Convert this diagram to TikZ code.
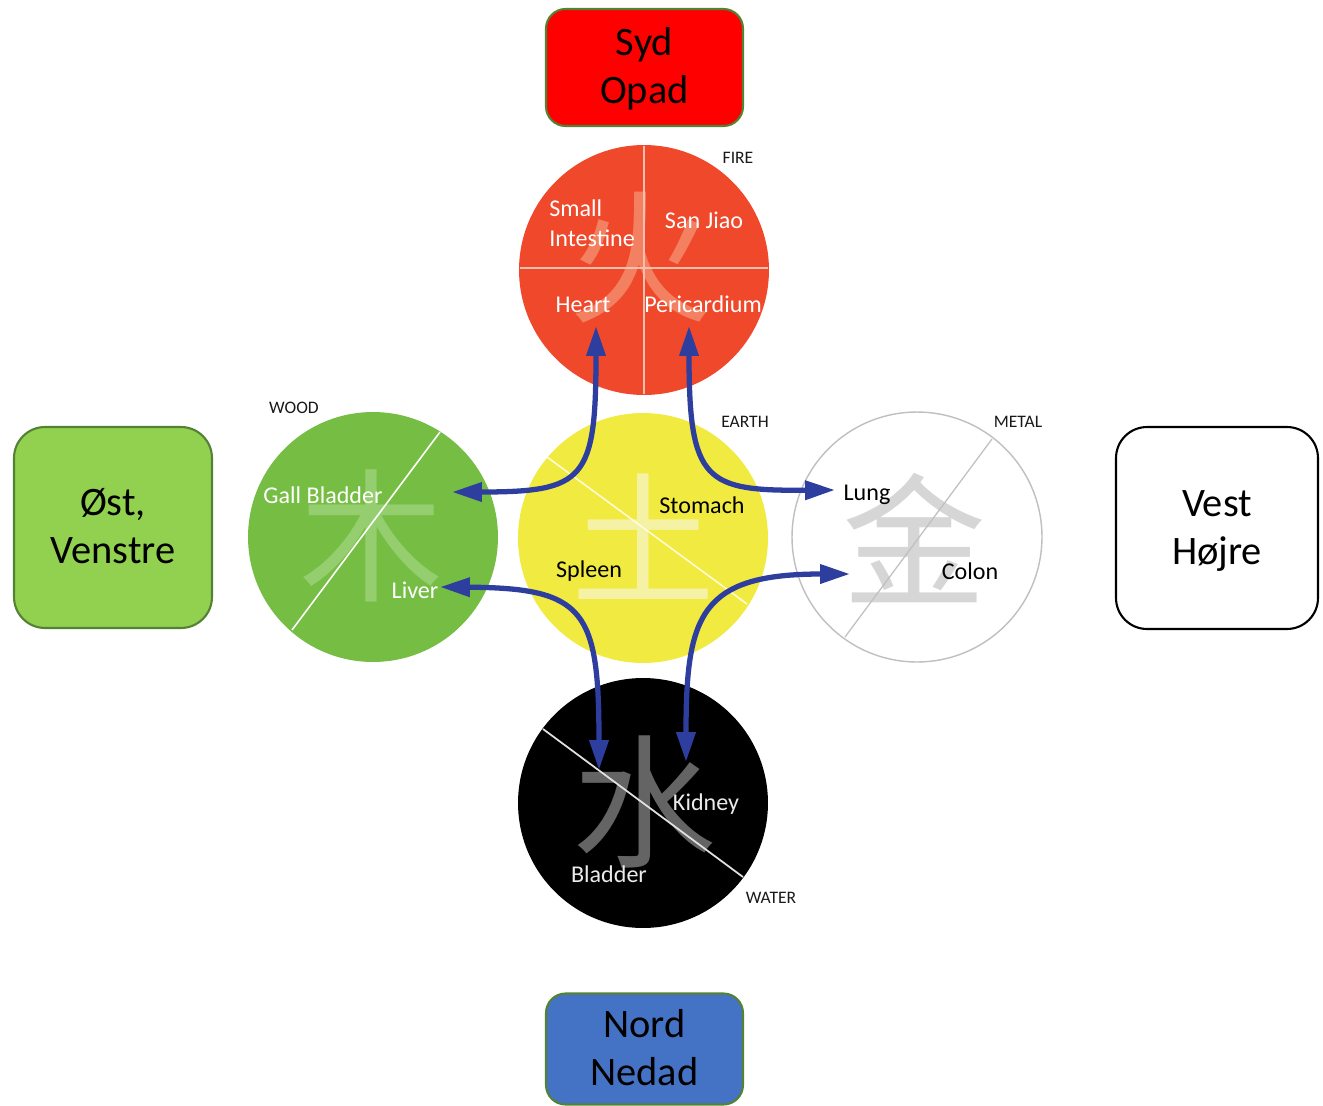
\documentclass[tikz,border=0pt]{standalone}
\usepackage{fontspec}
\setmainfont{Carlito}
\newfontfamily\cjk{Noto Sans CJK SC}
\usetikzlibrary{arrows.meta}

\definecolor{firered}{RGB}{239,72,42}
\definecolor{firechar}{RGB}{244,128,98}
\definecolor{firediv}{RGB}{248,190,172}
\definecolor{earthyel}{RGB}{241,234,64}
\definecolor{earthchar}{RGB}{246,242,165}
\definecolor{earthdiv}{RGB}{255,252,215}
\definecolor{woodgreen}{RGB}{118,189,67}
\definecolor{woodchar}{RGB}{148,206,110}
\definecolor{metalgray}{RGB}{191,191,191}
\definecolor{metalchar}{RGB}{214,214,214}
\definecolor{waterchar}{RGB}{100,100,100}
\definecolor{waterdiv}{RGB}{225,225,225}
\definecolor{watertext}{RGB}{235,235,235}
\definecolor{arrowblue}{RGB}{46,62,158}
\definecolor{boxline}{RGB}{84,130,53}
\definecolor{eastgreen}{RGB}{146,208,80}
\definecolor{northblue}{RGB}{68,114,196}
\definecolor{labelgray}{RGB}{25,25,25}

\newcommand{\dirtext}[2]{\rule{0pt}{20pt}#1\\#2\rule[-6pt]{0pt}{0pt}}

\begin{document}
\begin{tikzpicture}[x=0.02cm,y=-0.02cm,
  dirbox/.style={draw=boxline, line width=1.2pt, align=center,
    font=\fontsize{23}{27.5}\selectfont, inner sep=0pt},
  element/.style={circle, minimum size=5cm, inner sep=0pt},
  organ/.style={font=\fontsize{13.7}{17}\selectfont, anchor=base, inner sep=0pt},
  elabel/.style={font=\fontsize{10}{11}\selectfont, anchor=base, inner sep=0pt, text=labelgray},
  glyph/.style={font=\cjk\fontsize{82}{82}\selectfont, inner sep=0pt},
  link/.style={draw=arrowblue, line width=3pt,
    {Triangle[length=17pt,width=10.5pt]}-{Triangle[length=17pt,width=10.5pt]}}
]
\clip (0,0) rectangle (1323,1106);

% direction boxes
\node[dirbox, fill=red, rounded corners=0.39cm, minimum width=3.94cm, minimum height=2.34cm]
  (south) at (644.5,67.5) {\dirtext{Syd}{Opad}};
\node[dirbox, fill=eastgreen, rounded corners=0.62cm, minimum width=3.96cm, minimum height=4.02cm]
  (east) at (113,527.5) {\dirtext{Øst,}{Venstre}};
\node[dirbox, draw=black, fill=white, rounded corners=0.62cm, minimum width=4.04cm, minimum height=4.04cm]
  (west) at (1217,528) {\dirtext{Vest}{Højre}};
\node[dirbox, fill=northblue, rounded corners=0.39cm, minimum width=3.94cm, minimum height=2.22cm]
  (north) at (644.5,1049) {\dirtext{Nord}{Nedad}};

% element circles
\node[element, fill=firered] (fire) at (644,270) {};
\node[element, fill=earthyel] (earth) at (643,538) {};
\node[element, fill=woodgreen] (wood) at (373,537) {};
\node[element, fill=white, draw=metalgray, line width=0.8pt] (metal) at (917,537) {};
\node[element, fill=black] (water) at (643,803) {};

% characters
\node[glyph, text=firechar] (firech) at (641,258) {火};
\node[glyph, text=earthchar] (earthch) at (644,537) {土};
\node[glyph, text=woodchar] (woodch) at (372,536) {木};
\node[glyph, text=metalchar] (metalch) at (915,538) {金};
\node[glyph, text=waterchar] (waterch) at (645,802) {水};

% dividers
\draw[firediv, line width=1.1pt] (644,146) -- (644,394);
\draw[firediv, line width=1.1pt] (520,268) -- (768,268);
\draw[white, line width=0.9pt] (440,432) -- (292,630);
\draw[earthdiv, line width=0.9pt] (547,457) -- (747,604);
\draw[metalgray, line width=0.7pt] (992,439) -- (845,637);
\draw[waterdiv, line width=1pt] (543,729) -- (743,877);

% organ labels
\node[organ, text=white, align=left, anchor=west] (smallint) at (549,223) {Small\\Intestine};
\node[organ, text=white] (sanjiao) at (704,228) {San Jiao};
\node[organ, text=white] (heart) at (583,312) {Heart};
\node[organ, text=white] (pericard) at (703,312) {Pericardium};
\node[organ, text=white] (gallb) at (323,503) {Gall Bladder};
\node[organ, text=white] (liver) at (415,598) {Liver};
\node[organ] (stomach) at (702,513) {Stomach};
\node[organ] (spleen) at (589,577) {Spleen};
\node[organ] (lung) at (867,500) {Lung};
\node[organ] (colon) at (970,579) {Colon};
\node[organ, text=watertext] (kidney) at (706,810) {Kidney};
\node[organ, text=watertext] (bladder) at (609,882) {Bladder};

% element labels
\node[elabel] (firelbl) at (738,163) {FIRE};
\node[elabel] (woodlbl) at (294,413) {WOOD};
\node[elabel] (earthlbl) at (745,427) {EARTH};
\node[elabel] (metallbl) at (1018,427) {METAL};
\node[elabel] (waterlbl) at (771,903) {WATER};

% arrow end points
\coordinate (heartTip) at (596,326);
\coordinate (gallTip) at (452,492);
\coordinate (pericTip) at (689,326);
\coordinate (lungTip) at (835,490);
\coordinate (liverTip) at (440,587);
\coordinate (bladderTip) at (599,770);
\coordinate (colonTip) at (850,574);
\coordinate (kidneyTip) at (686,762);

% connectors
\draw[link] (heartTip) .. controls (596,480) and (585,492) .. (gallTip);
\draw[link] (pericTip) .. controls (689,482) and (705,491) .. (lungTip);
\draw[link] (liverTip) .. controls (585,588) and (599,610) .. (bladderTip);
\draw[link] (colonTip) .. controls (700,574) and (686,615) .. (kidneyTip);
\end{tikzpicture}
\end{document}
